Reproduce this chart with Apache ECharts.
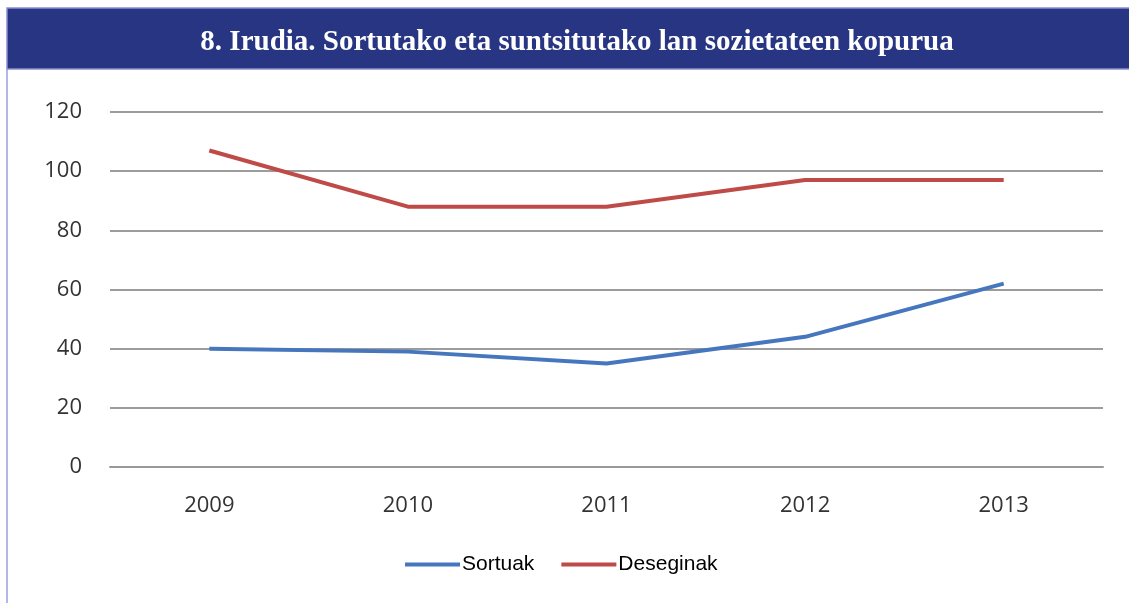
<!DOCTYPE html>
<html><head><meta charset="utf-8">
<script src="https://cdn.jsdelivr.net/npm/echarts@6/dist/echarts.min.js"></script>
<style>html,body{margin:0;padding:0;background:#fff}#c{width:1129px;height:603px}</style>
</head><body><div id="c"></div>
<script>
const categories = ['2009','2010','2011','2012','2013'];
const sortuak = [40, 39, 35, 44, 62];
const deseginak = [107, 88, 88, 97, 97];
const seriesNames = ['Sortuak','Deseginak'];
const titleText = '8. Irudia. Sortutako eta suntsitutako lan sozietateen kopurua';

const chart = echarts.init(document.getElementById('c'), null, {renderer:'canvas'});
chart.setOption({
  backgroundColor:'#ffffff',
  animation:false,
  graphic:[
    {type:'rect', shape:{x:7,y:8,width:1130,height:61}, style:{fill:'#283583', stroke:'#8a8fd0', lineWidth:1.5}, z:0},
    {type:'line', shape:{x1:7,y1:69,x2:7,y2:603}, style:{stroke:'#9a9ee0', lineWidth:1.5}, z:0}
  ],
  title:{
    text:titleText, left:572, top:23, textAlign:'center',
    textStyle:{fontFamily:'Liberation Serif', fontWeight:'bold', fontSize:29, color:'#ffffff'}
  },
  grid:{left:110, right:26, top:112, bottom:136},
  legend:{
    left:400, top:549, icon:'rect', itemWidth:55, itemHeight:4, itemGap:27,
    textStyle:{fontFamily:'Liberation Sans', fontSize:21, color:'#000', padding:[0,0,0,-3]},
    data:seriesNames
  },
  xAxis:{
    type:'category', data:categories, boundaryGap:true,
    axisLine:{show:true, lineStyle:{color:'#999', width:2}},
    axisTick:{show:false},
    axisLabel:{fontFamily:'Open Sans', fontSize:22, color:'#333333', margin:28}
  },
  yAxis:{
    type:'value', min:0, max:120, interval:20,
    axisLine:{show:false}, axisTick:{show:false},
    axisLabel:{fontFamily:'Open Sans', fontSize:22, color:'#333333', margin:28, padding:[9,0,0,0]},
    splitLine:{lineStyle:{color:'#9c9c9c', width:2}}
  },
  series:[
    {name:seriesNames[0], type:'line', data:sortuak, showSymbol:false, symbol:'none',
     lineStyle:{color:'#4677be', width:4}, itemStyle:{color:'#4677be'}},
    {name:seriesNames[1], type:'line', data:deseginak, showSymbol:false, symbol:'none',
     lineStyle:{color:'#be4b48', width:4}, itemStyle:{color:'#be4b48'}}
  ]
});
</script></body></html>
